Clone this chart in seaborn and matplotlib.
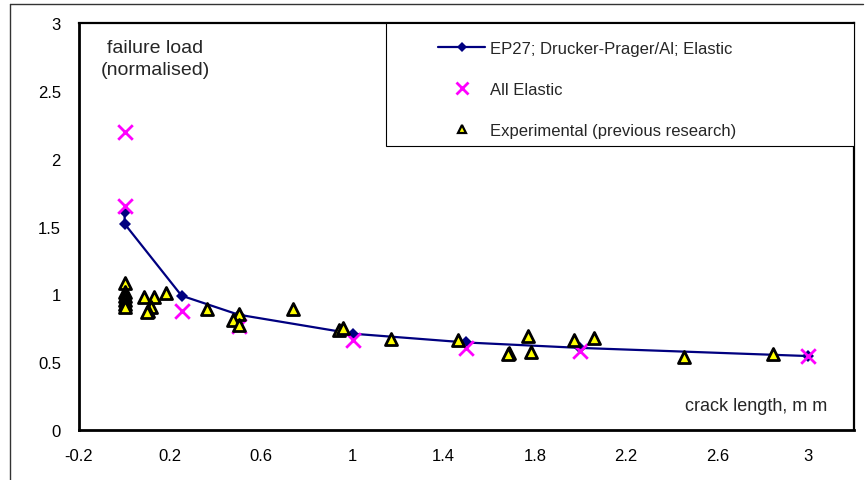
import matplotlib
matplotlib.use("Agg")
import matplotlib.pyplot as plt
import seaborn as sns
from matplotlib.lines import Line2D
from matplotlib.patches import Rectangle

# EP27; Drucker-Prager/Al; Elastic (model curve)
ep_x = [0.0, 0.0, 0.25, 0.5, 1.0, 1.5, 2.0, 3.0]
ep_y = [1.61, 1.52, 0.99, 0.85, 0.71, 0.645, 0.605, 0.545]

# All Elastic
el_x = [0.0, 0.0, 0.25, 0.5, 1.0, 1.5, 2.0, 3.0]
el_y = [2.20, 1.65, 0.88, 0.77, 0.66, 0.605, 0.58, 0.545]

# Experimental (previous research)
exp_x = [0.0, 0.0, 0.0, 0.0, 0.0, 0.0, 0.086, 0.13, 0.118, 0.104, 0.10, 0.18,
         0.36, 0.50, 0.477, 0.50, 0.741, 0.942, 0.958, 1.169,
         1.462, 1.686, 1.68, 1.771, 1.781, 1.972, 2.06, 2.453, 2.844]
exp_y = [1.085, 1.02, 0.99, 0.96, 0.93, 0.905, 0.98, 0.98, 0.91, 0.88, 0.87, 1.01,
         0.895, 0.855, 0.81, 0.775, 0.895, 0.74, 0.75, 0.67,
         0.665, 0.57, 0.56, 0.69, 0.575, 0.665, 0.675, 0.535, 0.56]

x_ticks = [-0.2, 0.2, 0.6, 1.0, 1.4, 1.8, 2.2, 2.6, 3.0]
y_ticks = [0, 0.5, 1, 1.5, 2, 2.5, 3]

sns.set_style("white")
plt.rcParams['font.family'] = ['Liberation Sans', 'DejaVu Sans']

fig = plt.figure(figsize=(8.66, 4.81), dpi=100)
ax = fig.add_axes([79 / 866, 1 - 431 / 481, 775 / 866, 407 / 481])

sns.lineplot(x=ep_x, y=ep_y, ax=ax, color='#000080', linewidth=1.6, marker='D',
             markersize=6, markeredgewidth=0, sort=False, estimator=None, zorder=3)
sns.scatterplot(x=el_x, y=el_y, ax=ax, marker='x', color='#FF00FF', s=110,
                linewidth=2, zorder=4)
sns.scatterplot(x=exp_x, y=exp_y, ax=ax, marker='^', color='#FFFF00', s=75,
                edgecolor='black', linewidth=2, zorder=5)

ax.set_xlim(-0.2, 3.2)
ax.set_ylim(0, 3)
ax.set_xticks(x_ticks)
ax.set_xticklabels([f"{v:g}" for v in x_ticks])
ax.set_yticks(y_ticks)
ax.set_yticklabels([f"{v:g}" for v in y_ticks])
ax.tick_params(axis='both', direction='inout', length=8, width=1, color='#333333',
               labelsize=12, labelcolor='black', pad=9)
ax.set_xlabel('')
ax.set_ylabel('')

for side in ['left', 'bottom']:
    ax.spines[side].set_linewidth(2.0)
    ax.spines[side].set_color('black')
for side in ['top', 'right']:
    ax.spines[side].set_linewidth(1.6)
    ax.spines[side].set_color('black')

ax.text(0.098, 0.96, "failure load\n(normalised)", transform=ax.transAxes,
        ha='center', va='top', multialignment='center', fontsize=14,
        linespacing=1.4)
ax.text(0.965, 0.059, "crack length, m m", transform=ax.transAxes,
        ha='right', va='center', fontsize=13)

# legend box
ax.add_patch(Rectangle((0.396, 0.698), 0.604, 0.302, transform=ax.transAxes,
                       facecolor='white', edgecolor='black', linewidth=0.8,
                       zorder=6))
handles = [
    Line2D([], [], color='#000080', linewidth=1.6, marker='D', markersize=5,
           markeredgewidth=0),
    Line2D([], [], color='#FF00FF', linestyle='none', marker='x', markersize=8,
           markeredgewidth=2),
    Line2D([], [], color='black', linestyle='none', marker='^', markersize=6,
           markerfacecolor='#FFFF00', markeredgewidth=1.6),
]
labels = ["EP27; Drucker-Prager/Al; Elastic", "All Elastic",
          "Experimental (previous research)"]
leg = ax.legend(handles, labels, loc='upper left', bbox_to_anchor=(0.463, 0.955),
                frameon=False, borderpad=0, borderaxespad=0, fontsize=12,
                handlelength=2.85, handletextpad=0.3, labelspacing=1.55)
leg.set_zorder(7)

# outer frame lines
fig.add_artist(Line2D([10 / 866, 863 / 866], [1 - 5 / 481, 1 - 5 / 481],
                      transform=fig.transFigure, color='#333333', linewidth=1))
fig.add_artist(Line2D([10 / 866, 10 / 866], [1 - 5 / 481, 0],
                      transform=fig.transFigure, color='#333333', linewidth=1))

fig.savefig("out.png", dpi=100)
